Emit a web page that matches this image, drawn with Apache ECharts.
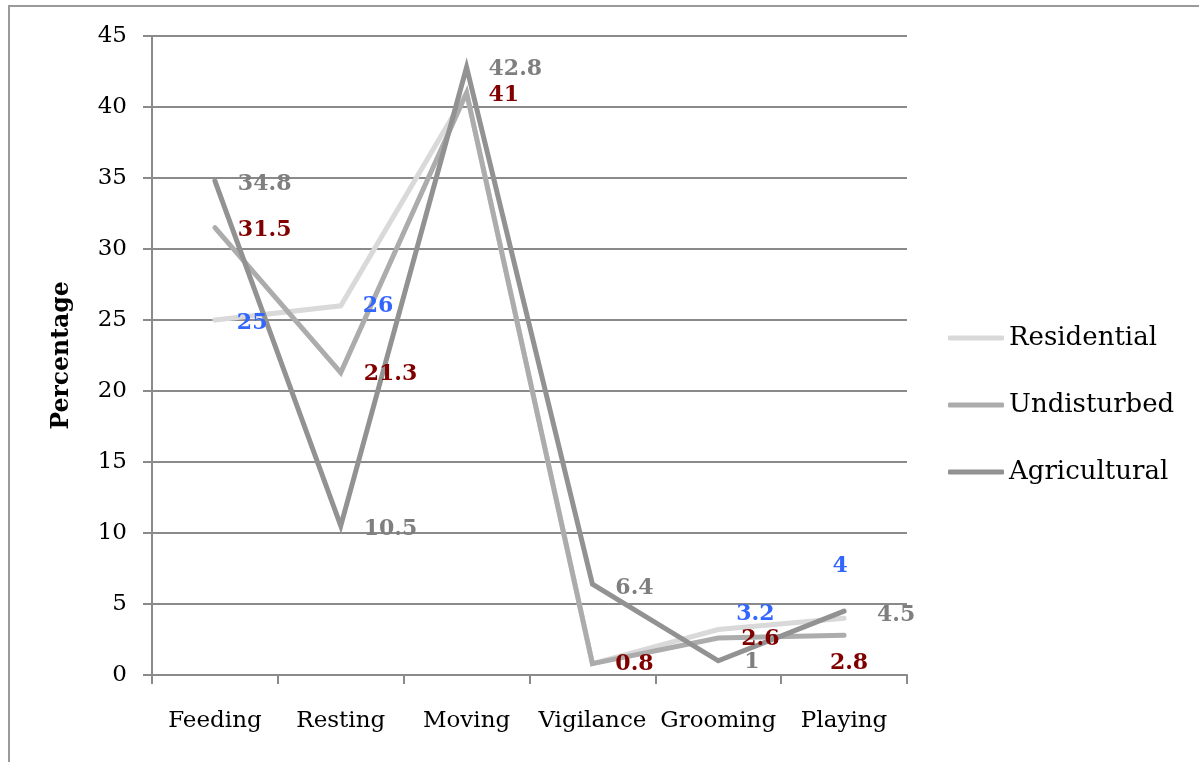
<!DOCTYPE html>
<html>
<head>
<meta charset="utf-8">
<script src="https://cdn.jsdelivr.net/npm/echarts@6/dist/echarts.min.js"></script>
<style>html,body{margin:0;padding:0;background:#fff}#c{width:1199px;height:762px}</style>
</head>
<body>
<div id="c"></div>
<script>
const categories = ['Feeding', 'Resting', 'Moving', 'Vigilance', 'Grooming', 'Playing'];
const residential = [25, 26, 41, 0.8, 3.2, 4];
const undisturbed = [31.5, 21.3, 41, 0.8, 2.6, 2.8];
const agricultural = [34.8, 10.5, 42.8, 6.4, 1, 4.5];
const yTicks = { min: 0, max: 45, interval: 5 };

const FONT = 'DejaVu Serif';
// label placement (style only): [dx, dy, align] relative to the point; null = hidden
const resLabelPos = [[22, 3, 'left'], [22, 1, 'left'], null, null, [18, -15, 'left'], [-4, -52, 'center']];
const undLabelPos = [[23, 3, 'left'], [23, 2, 'left'], [22, 3, 'left'], [23, 1, 'left'], [23, 1, 'left'], [5, 28, 'center']];
const agrLabelPos = [[23, 3, 'left'], [23, 3, 'left'], [22, 2, 'left'], [23, 4, 'left'], [26, 2, 'left'], [33, 4, 'left']];

function buildData(vals, pos) {
  return vals.map((v, i) => {
    const p = pos[i];
    if (!p) return { value: v, label: { show: false } };
    return { value: v, label: { show: true, position: [p[0], p[1]], align: p[2], verticalAlign: 'middle' } };
  });
}

function mkSeries(name, vals, color, labelColor, pos) {
  return {
    name, type: 'line', data: buildData(vals, pos),
    showSymbol: true, symbol: 'circle', symbolSize: 0.1, smooth: false,
    lineStyle: { color, width: 5, cap: 'round', join: 'miter' },
    itemStyle: { color },
    label: {
      show: true,
      fontFamily: FONT, fontWeight: 'bold', fontSize: 22, color: labelColor
    },
    labelLayout: { hideOverlap: false },
    emphasis: { disabled: true }, animation: false
  };
}

const chart = echarts.init(document.getElementById('c'));
chart.setOption({
  animation: false,
  graphic: [{
    type: 'rect', silent: true,
    shape: { x: 9, y: 6, width: 1400, height: 1000 },
    style: { fill: 'none', stroke: '#9a9a9a', lineWidth: 2 }
  }],
  grid: { left: 152, right: 292, top: 36, bottom: 87, containLabel: false },
  legend: {
    orient: 'vertical', left: 943, top: 320,
    itemWidth: 56, itemHeight: 5, itemGap: 41, itemTextGap: 5,
    icon: 'roundRect',
    textStyle: { fontFamily: FONT, fontSize: 26, color: '#000' },
    data: ['Residential', 'Undisturbed', 'Agricultural']
  },
  xAxis: {
    type: 'category', data: categories, boundaryGap: true,
    axisLine: { lineStyle: { color: '#8a8a8a', width: 2 } },
    axisTick: { show: true, interval: 0, length: 9, lineStyle: { color: '#8a8a8a', width: 2 } },
    axisLabel: { interval: 0, margin: 35, fontFamily: FONT, fontSize: 23, color: '#000' }
  },
  yAxis: {
    type: 'value', min: yTicks.min, max: yTicks.max, interval: yTicks.interval,
    name: 'Percentage', nameLocation: 'middle', nameGap: 78, nameRotate: 90,
    nameTextStyle: { fontFamily: FONT, fontWeight: 'bold', fontSize: 23.5, color: '#000' },
    axisLine: { show: true, lineStyle: { color: '#8a8a8a', width: 2 } },
    axisTick: { show: true, length: 9, lineStyle: { color: '#8a8a8a', width: 2 } },
    splitLine: { show: true, lineStyle: { color: '#8a8a8a', width: 2 } },
    axisLabel: { margin: 25, fontFamily: FONT, fontSize: 23, color: '#000' }
  },
  series: [
    mkSeries('Residential', residential, '#d9d9d9', '#3366ff', resLabelPos),
    mkSeries('Undisturbed', undisturbed, '#acacac', '#800000', undLabelPos),
    mkSeries('Agricultural', agricultural, '#929292', '#7f7f7f', agrLabelPos)
  ]
});
</script>
</body>
</html>
